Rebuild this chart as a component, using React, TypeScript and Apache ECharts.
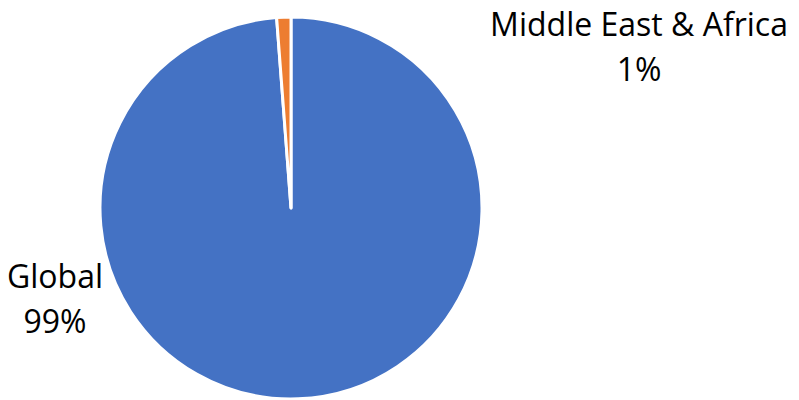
import React, { useEffect, useRef } from "react";
import * as echarts from "echarts";

const categories = ["Global", "Middle East & Africa"];
const values = [98.8, 1.2];
const colors = ["#4472C4", "#ED7D31"];
const labelPositions = [
  { x: 55, y: 298 },
  { x: 639, y: 46 },
];

export default function App() {
  const ref = useRef<HTMLDivElement>(null);
  useEffect(() => {
    const chart = echarts.init(ref.current!, null, { renderer: "svg" });
    chart.setOption({
      animation: false,
      series: [
        {
          type: "pie",
          center: [291, 208],
          radius: [0, 191],
          startAngle: 90,
          clockwise: true,
          data: categories.map((name, i) => ({
            name,
            value: values[i],
            itemStyle: { color: colors[i] },
          })),
          itemStyle: { borderColor: "#ffffff", borderWidth: 3 },
          label: {
            show: true,
            position: "outside",
            formatter: (p: any) => `${p.name}\n${Math.round(p.percent)}%`,
            fontFamily: "Open Sans",
            fontSize: 32,
            lineHeight: 45,
            color: "#000000",
            align: "center",
            overflow: "none",
          },
          labelLine: { show: false },
          labelLayout: (params: any) => ({
            x: labelPositions[params.dataIndex].x,
            y: labelPositions[params.dataIndex].y,
            align: "center",
            verticalAlign: "middle",
          }),
          emphasis: { disabled: true },
        },
      ],
    });
    return () => chart.dispose();
  }, []);
  return <div ref={ref} style={{ width: 799, height: 400, position: "absolute", left: 0, top: 0 }} />;
}
